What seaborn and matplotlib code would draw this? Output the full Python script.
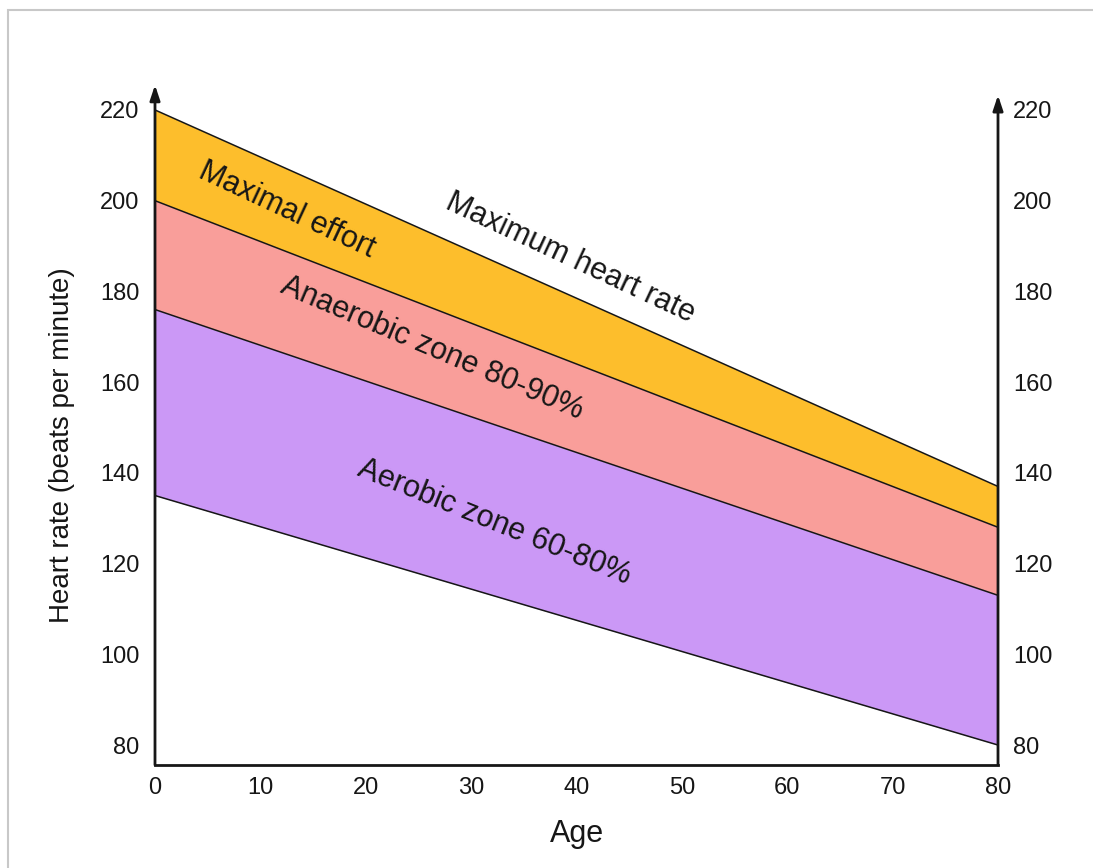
import numpy as np
import pandas as pd
import seaborn as sns
import matplotlib.pyplot as plt
from matplotlib.patches import Rectangle

# values (heart rate in beats per minute)
age = [0, 80]
max_hr = [220, 137]
zone_90 = [200, 128]
zone_80 = [176, 113]
zone_60 = [135, 80]

y_ticks = [80, 100, 120, 140, 160, 180, 200, 220]
x_ticks = [0, 10, 20, 30, 40, 50, 60, 70, 80]

orange = '#FDBE2C'
salmon = '#F99E9A'
purple = '#CB98F6'
ink = '#161616'

sns.set_style('white')
plt.rcParams['font.family'] = ['Liberation Sans', 'DejaVu Sans']

data = pd.DataFrame({'age': age, 'max': max_hr, 'p90': zone_90, 'p80': zone_80, 'p60': zone_60})

fig = plt.figure(figsize=(10.93, 8.68), dpi=100)
ax = fig.add_axes([155 / 1093, 103 / 868, 843 / 1093, 680 / 868])

# bands
ax.fill_between(data['age'], data['p90'], data['max'], color=orange, lw=0)
ax.fill_between(data['age'], data['p80'], data['p90'], color=salmon, lw=0)
ax.fill_between(data['age'], data['p60'], data['p80'], color=purple, lw=0)

for col in ['max', 'p90', 'p80', 'p60']:
    sns.lineplot(data=data, x='age', y=col, ax=ax, color=ink, lw=1.1)

ax.set_xlim(0, 80)
ax.set_ylim(75.6, 225.5)
ax.set_xticks(x_ticks)
ax.set_yticks(y_ticks)
ax.tick_params(axis='both', length=0, labelsize=17, labelcolor=ink)
ax.tick_params(axis='y', pad=11, left=False, labelleft=True, right=False, labelright=True)
ax.tick_params(axis='x', pad=9)

for s in ['top', 'left', 'right']:
    ax.spines[s].set_visible(False)
ax.spines['bottom'].set_color(ink)
ax.spines['bottom'].set_linewidth(2)

# arrow-headed vertical axes on both sides
arrow = dict(arrowstyle='-|>,head_length=0.9,head_width=0.3', color=ink, lw=2,
             shrinkA=0, shrinkB=0)
ax.annotate('', xy=(0, 1.0), xytext=(0, 0), xycoords='axes fraction', arrowprops=arrow)
ax.annotate('', xy=(1, 0.985), xytext=(1, 0), xycoords='axes fraction', arrowprops=arrow)

ax.set_xlabel('Age', fontsize=22, labelpad=14, color=ink)
ax.set_ylabel('Heart rate (beats per minute)', fontsize=20, labelpad=18, color=ink)
ax.yaxis.label.set_y(0.47)

txt = dict(ha='center', va='center', rotation_mode='anchor', fontsize=22, color=ink)
ax.text(12.5, 198.0, 'Maximal effort', rotation=-25, **txt)
ax.text(39.4, 187.4, 'Maximum heart rate', rotation=-25, **txt)
ax.text(26.3, 167.5, 'Anaerobic zone 80-90%', rotation=-23, **txt)
ax.text(32.2, 129.2, 'Aerobic zone 60-80%', rotation=-22, **txt)

# light frame around the picture
fig.patches.append(Rectangle((8 / 1093, -0.01), 1.0, 858 / 868 + 0.01, transform=fig.transFigure,
                             fill=False, edgecolor='#c8c8c8', lw=1.5))

fig.savefig('out.png', dpi=100)
